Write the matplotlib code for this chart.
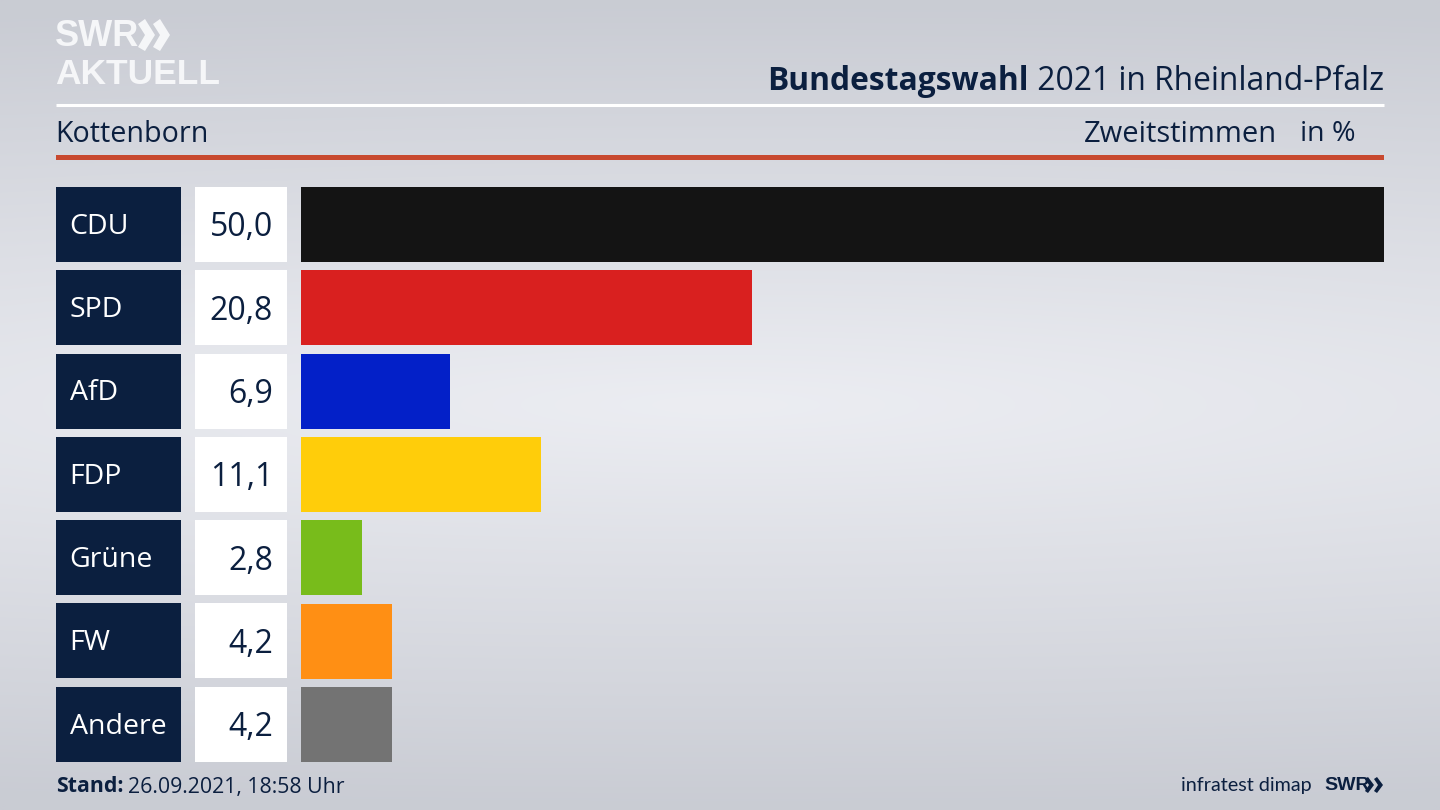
import matplotlib
matplotlib.use("Agg")
import matplotlib.pyplot as plt
from matplotlib.patches import Rectangle, Polygon
import numpy as np

# Werte
parties = ["CDU", "SPD", "AfD", "FDP", "Grüne", "FW", "Andere"]
values = [50.0, 20.8, 6.9, 11.1, 2.8, 4.2, 4.2]
bar_colors = ["#141414", "#d9201f", "#0320c8", "#ffcd0a", "#78bc1b", "#ff8f14", "#737373"]

NAVY = "#0b1f3f"
LOGO = "#f5f6f8"
plt.rcParams["font.family"] = ["Open Sans", "DejaVu Sans"]

W, H = 1440, 810
fig = plt.figure(figsize=(W / 100, H / 100), dpi=100)

# background: grey gradient, light band through the middle
bg = fig.add_axes([0, 0, 1, 1])
bg.set_xlim(0, W)
bg.set_ylim(H, 0)
bg.axis("off")
yy, xx = np.mgrid[0:1:81j, 0:1:144j]
dist = np.sqrt(((xx - 0.5) / 2.2) ** 2 + ((yy - 0.5) / 0.5) ** 2)
shade = np.clip(dist, 0, 1)
c0 = np.array([0.925, 0.93, 0.95])
c1 = np.array([0.79, 0.80, 0.83])
img = c0 + (c1 - c0) * shade[..., None]
bg.imshow(img, extent=[0, W, H, 0], aspect="auto", interpolation="bicubic", zorder=0)

# header
bg.text(55, 37, "SWR", fontsize=26, fontweight="bold", color=LOGO, va="center", ha="left", family="Liberation Sans")
bg.text(55, 74, "AKTUELL", fontsize=25.5, fontweight="bold", color=LOGO, va="center", ha="left", family="Liberation Sans")
for x0 in (138, 153):
    bg.add_patch(Polygon([(x0, 24), (x0 + 7, 19), (x0 + 17, 35), (x0 + 7, 51), (x0, 47), (x0 + 7, 35)], color=LOGO, lw=0, zorder=3))

t = bg.text(1384, 82, " 2021 in Rheinland-Pfalz", fontsize=22.9, color=NAVY, va="center", ha="right")
fig.canvas.draw()
bbox = t.get_window_extent()
bg.text(bbox.x0, 82, "Bundestagswahl", fontsize=22.9, fontweight="bold", color=NAVY, va="center", ha="right")

bg.plot([56, 1384], [105, 105], color="white", lw=2.2, solid_capstyle="butt")
bg.add_patch(Rectangle((56, 155), 1328, 5, color="#c8492f", lw=0))
bg.text(55, 134, "Kottenborn", fontsize=20.6, color=NAVY, va="center", ha="left")
bg.text(1277, 134, "Zweitstimmen", fontsize=21, color=NAVY, va="center", ha="right")
bg.text(1355, 134, "in %", fontsize=20.5, color=NAVY, va="center", ha="right")

# bars
ax = fig.add_axes([301 / W, 1 - 762 / H, (1384 - 301) / W, (762 - 187) / H])
ax.patch.set_alpha(0)
y = np.arange(len(parties))
ax.barh(y, values, height=0.9, color=bar_colors)
ax.set_xlim(0, 50)
ax.set_ylim(len(parties) - 0.55, -0.45)
ax.axis("off")

row_h = 83.25
for i, (p, v) in enumerate(zip(parties, values)):
    top = 187 + i * row_h
    bg.add_patch(Rectangle((56, top), 125, 75, color=NAVY, lw=0, zorder=2))
    bg.add_patch(Rectangle((195, top), 92, 75, color="white", lw=0, zorder=2))
    bg.text(69.5, top + 40, p, fontsize=20.5, color="white", va="center", ha="left", zorder=3)
    bg.text(273, top + 41, f"{v:.1f}".replace(".", ","), fontsize=23, color=NAVY, va="center", ha="right", zorder=3)

# footer
s = bg.text(56, 787, "Stand:", fontsize=15.3, fontweight="bold", color=NAVY, va="center", ha="left")
fig.canvas.draw()
bg.text(s.get_window_extent().x1 + 4, 787, "26.09.2021, 18:58 Uhr", fontsize=15.3, color=NAVY, va="center", ha="left")
bg.text(1312, 786, "infratest dimap", fontsize=14.2, color=NAVY, va="center", ha="right", family="Lato")
bg.text(1324, 786, "SWR", fontsize=14, fontweight="bold", color=NAVY, va="center", ha="left", family="Liberation Sans")
for x0 in (1365, 1374):
    bg.add_patch(Polygon([(x0, 779), (x0 + 3, 777), (x0 + 9, 785), (x0 + 3, 793), (x0, 791), (x0 + 4, 785)], color=NAVY, lw=0, zorder=3))

fig.savefig("out.png", dpi=100)
